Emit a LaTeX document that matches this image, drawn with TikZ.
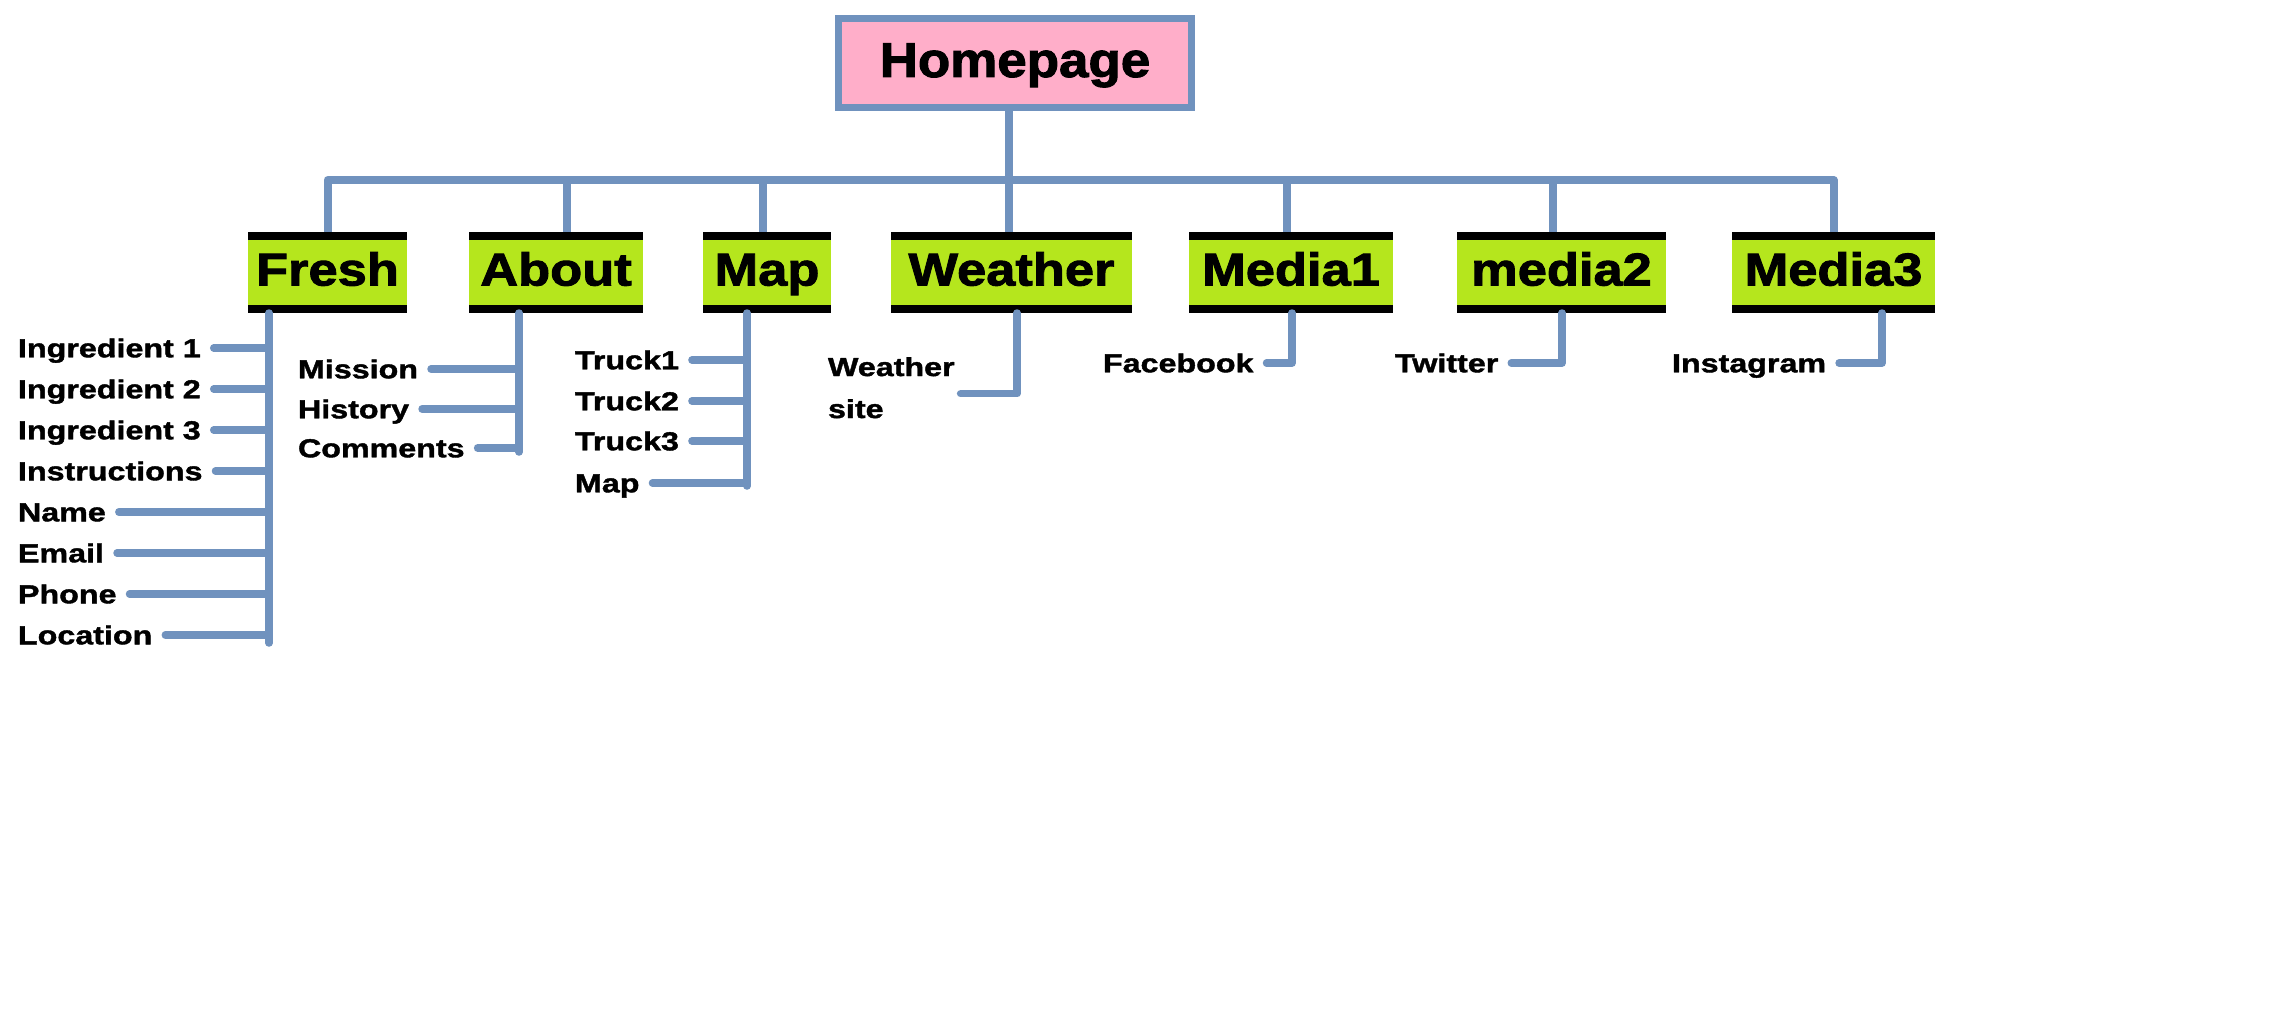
\documentclass[tikz,border=0pt]{standalone}
\usepackage{fontspec}
\setmainfont{Liberation Sans}
\newfontfamily\homefam[FakeStretch=1.08,FakeBold=2]{Liberation Sans Bold}
\newfontfamily\tabfam[FakeStretch=1.14,FakeBold=2]{Liberation Sans Bold}
\newfontfamily\itemfam[FakeStretch=1.24,FakeBold=1.5]{Liberation Sans Bold}
\newcommand\homefont{\homefam\fontsize{49pt}{54pt}\selectfont}
\newcommand\tabfont{\tabfam\fontsize{46pt}{50pt}\selectfont}
\newcommand\itemfont{\itemfam\fontsize{26pt}{42pt}\selectfont}

\definecolor{barblue}{RGB}{112,146,190}
\definecolor{rosefill}{RGB}{255,174,201}
\definecolor{limefill}{RGB}{181,230,29}

\begin{document}
\begin{tikzpicture}[x=1pt,y=-1pt,
    trunk/.style={draw=barblue, line width=8pt, line join=round},
    twig/.style={draw=barblue, line width=7.5pt, line cap=round, line join=round},
    home/.style={draw=barblue, line width=7pt, fill=rosefill, inner sep=0pt,
        minimum width=353pt, minimum height=89pt,
        text height=35pt, text depth=7pt, font=\homefont},
    tab/.style={fill=limefill, inner sep=0pt, minimum height=81pt,
        text height=33pt, text depth=7pt, font=\tabfont,
        path picture={
            \fill[black] (path picture bounding box.north west)
                rectangle ([yshift=-8pt]path picture bounding box.north east);
            \fill[black] (path picture bounding box.south west)
                rectangle ([yshift=8pt]path picture bounding box.south east);
        }},
    item/.style={font=\itemfont, inner sep=0pt, outer xsep=13pt,
        text height=18.6pt, text depth=0pt, anchor=west}]

    % поле
    \fill[white] (0,0) rectangle (2294,1030);
    \useasboundingbox (0,0) rectangle (2294,1030);

    % главная
    \node[home] (home) at (1015,63) {Homepage};

    % разделы
    \node[tab, minimum width=159pt] (fresh)   at (327.5,272.5)  {Fresh};
    \node[tab, minimum width=174pt] (about)   at (556,272.5)    {About};
    \node[tab, minimum width=128pt] (map)     at (767,272.5)    {Map};
    \node[tab, minimum width=241pt] (weather) at (1011.5,272.5) {Weather};
    \node[tab, minimum width=204pt] (media1)  at (1291,272.5)   {Media1};
    \node[tab, minimum width=209pt] (media2)  at (1561.5,272.5) {media2};
    \node[tab, minimum width=203pt] (media3)  at (1833.5,272.5) {Media3};

    % шина
    \coordinate (bus) at (1009,180);
    \draw[trunk] (bus) -- (bus |- home.south);
    \draw[trunk] (fresh.north) |- (bus) -| (media3.north);
    \draw[trunk] ([xshift=11pt]about.north) -- ([xshift=11pt]about.north |- bus);
    \draw[trunk] ([xshift=-4pt]map.north) -- ([xshift=-4pt]map.north |- bus);
    \draw[trunk] (weather.north -| bus) -- (bus);
    \draw[trunk] ([xshift=-4pt]media1.north) -- ([xshift=-4pt]media1.north |- bus);
    \draw[trunk] ([xshift=-8.5pt]media2.north) -- ([xshift=-8.5pt]media2.north |- bus);

    % Fresh
    \node[item] (ing1)  at (5,348) {Ingredient 1};
    \node[item] (ing2)  at (5,389) {Ingredient 2};
    \node[item] (ing3)  at (5,430) {Ingredient 3};
    \node[item] (instr) at (5,471) {Instructions};
    \node[item] (name)  at (5,512) {Name};
    \node[item] (email) at (5,553) {Email};
    \node[item] (phone) at (5,594) {Phone};
    \node[item] (loc)   at (5,635) {Location};

    \coordinate (freshtop) at (269,313);
    \coordinate (freshbot) at (269,643);
    \draw[twig] (freshtop) -- (freshbot);
    \draw[twig] (ing1.east)  -- (ing1.east -| freshtop);
    \draw[twig] (ing2.east)  -- (ing2.east -| freshtop);
    \draw[twig] (ing3.east)  -- (ing3.east -| freshtop);
    \draw[twig] (instr.east) -- (instr.east -| freshtop);
    \draw[twig] (name.east)  -- (name.east -| freshtop);
    \draw[twig] (email.east) -- (email.east -| freshtop);
    \draw[twig] (phone.east) -- (phone.east -| freshtop);
    \draw[twig] (loc.east)   -- (loc.east -| freshtop);

    % About
    \node[item] (mission)  at (285,369) {Mission};
    \node[item] (history)  at (285,409) {History};
    \node[item] (comments) at (285,448) {Comments};

    \coordinate (abouttop) at (519,313);
    \coordinate (aboutbot) at (519,452);
    \draw[twig] (abouttop) -- (aboutbot);
    \draw[twig] (mission.east)  -- (mission.east -| abouttop);
    \draw[twig] (history.east)  -- (history.east -| abouttop);
    \draw[twig] (comments.east) -- (comments.east -| abouttop);

    % Map
    \node[item] (truck1) at (562,360) {Truck1};
    \node[item] (truck2) at (562,401) {Truck2};
    \node[item] (truck3) at (562,441) {Truck3};
    \node[item] (mapit)  at (562,483) {Map};

    \coordinate (maptop) at (747,313);
    \coordinate (mapbot) at (747,486);
    \draw[twig] (maptop) -- (mapbot);
    \draw[twig] (truck1.east) -- (truck1.east -| maptop);
    \draw[twig] (truck2.east) -- (truck2.east -| maptop);
    \draw[twig] (truck3.east) -- (truck3.east -| maptop);
    \draw[twig] (mapit.east)  -- (mapit.east -| maptop);

    % Weather
    \node[font=\itemfont, inner sep=0pt, outer xsep=6pt, align=left,
        anchor=north west] (wsite) at (822,357) {Weather\\site};
    \coordinate (wtop) at (1017,313);
    \draw[twig] (wtop) |- ([yshift=-6pt]wsite.east);

    % соцсети
    \node[item] (fb)    at (1090,363) {Facebook};
    \node[item] (tw)    at (1382,363) {Twitter};
    \node[item] (insta) at (1659,363) {Instagram};

    \coordinate (fbtop)    at (1292,313);
    \coordinate (twtop)    at (1562,313);
    \coordinate (instatop) at (1882,313);
    \draw[twig] (fbtop)    |- (fb.east);
    \draw[twig] (twtop)    |- (tw.east);
    \draw[twig] (instatop) |- (insta.east);

\end{tikzpicture}
\end{document}
